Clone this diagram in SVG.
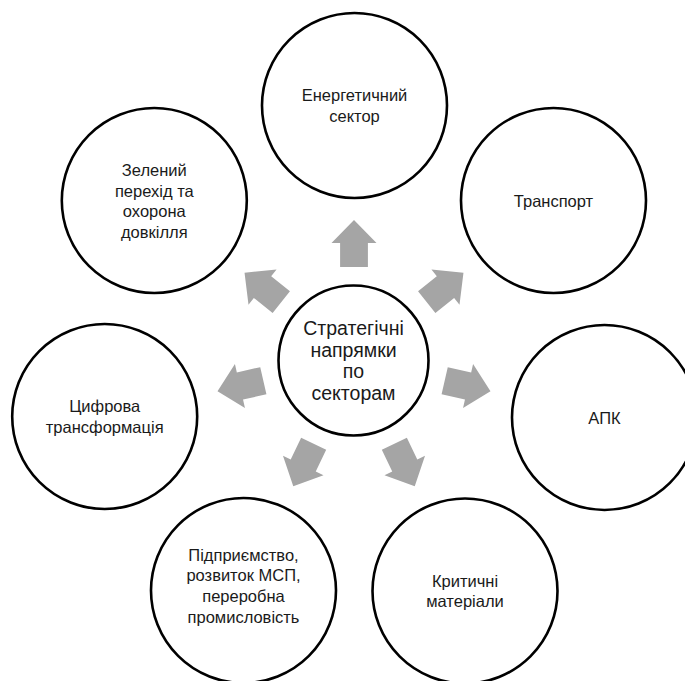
<svg xmlns="http://www.w3.org/2000/svg" xmlns:xlink="http://www.w3.org/1999/xlink" width="685" height="681" viewBox="0 0 685 681">
<style>
.c{fill:#fff;stroke:#000;stroke-width:2.6}
.t{font-family:"Liberation Sans",Arial,sans-serif;font-size:16.5px;fill:#1a1a1a;text-anchor:middle}
.tc{font-family:"Liberation Sans",Arial,sans-serif;font-size:19.5px;fill:#1a1a1a;text-anchor:middle}
.a{fill:#A5A5A5}
</style>
<defs>
<polygon id="arr" class="a" points="93,-13.9 117,-13.9 117,-22.5 140,0 117,22.5 117,13.9 93,13.9"/>
</defs>
<rect width="685" height="681" fill="#fff"/>
<g id="connectors">
<use xlink:href="#arr" transform="translate(354 360) rotate(-90)"/>
<use xlink:href="#arr" transform="translate(354 360) rotate(-38.57)"/>
<use xlink:href="#arr" transform="translate(354 360) rotate(12.86)"/>
<use xlink:href="#arr" transform="translate(354 360) rotate(64.29)"/>
<use xlink:href="#arr" transform="translate(354 360) rotate(115.71)"/>
<use xlink:href="#arr" transform="translate(354 360) rotate(167.14)"/>
<use xlink:href="#arr" transform="translate(354 360) rotate(218.57)"/>
</g>
<g id="center">
<circle class="c" cx="353.5" cy="360.5" r="75"/>
<text class="tc" x="353.5" y="335">Стратегічні</text>
<text class="tc" x="353.5" y="356.5">напрямки</text>
<text class="tc" x="353.5" y="378">по</text>
<text class="tc" x="353.5" y="399.5">секторам</text>
</g>
<g id="energy">
<circle class="c" cx="354.5" cy="105.5" r="92.5"/>
<text class="t" x="354.5" y="101">Енергетичний</text>
<text class="t" x="354.5" y="121.7">сектор</text>
</g>
<g id="transport">
<circle class="c" cx="553.5" cy="200.5" r="92.5"/>
<text class="t" x="553.5" y="206.7">Транспорт</text>
</g>
<g id="apk">
<circle class="c" cx="604.5" cy="417.5" r="92.5"/>
<text class="t" x="604.5" y="423.5">АПК</text>
</g>
<g id="materials">
<circle class="c" cx="465" cy="591" r="92.5"/>
<text class="t" x="465" y="586.5">Критичні</text>
<text class="t" x="465" y="607.2">матеріали</text>
</g>
<g id="enterprise">
<circle class="c" cx="243.5" cy="590.5" r="92.5"/>
<text class="t" x="243.5" y="560.5">Підприємство,</text>
<text class="t" x="243.5" y="581.2">розвиток МСП,</text>
<text class="t" x="243.5" y="601.9">переробна</text>
<text class="t" x="243.5" y="622.6">промисловість</text>
</g>
<g id="digital">
<circle class="c" cx="104.7" cy="416.5" r="92.5"/>
<text class="t" x="104.7" y="412">Цифрова</text>
<text class="t" x="104.7" y="432.7">трансформація</text>
</g>
<g id="green">
<circle class="c" cx="154.3" cy="200.5" r="92.5"/>
<text class="t" x="154.3" y="176">Зелений</text>
<text class="t" x="154.3" y="196.7">перехід та</text>
<text class="t" x="154.3" y="217.4">охорона</text>
<text class="t" x="154.3" y="238.1">довкілля</text>
</g>
</svg>
